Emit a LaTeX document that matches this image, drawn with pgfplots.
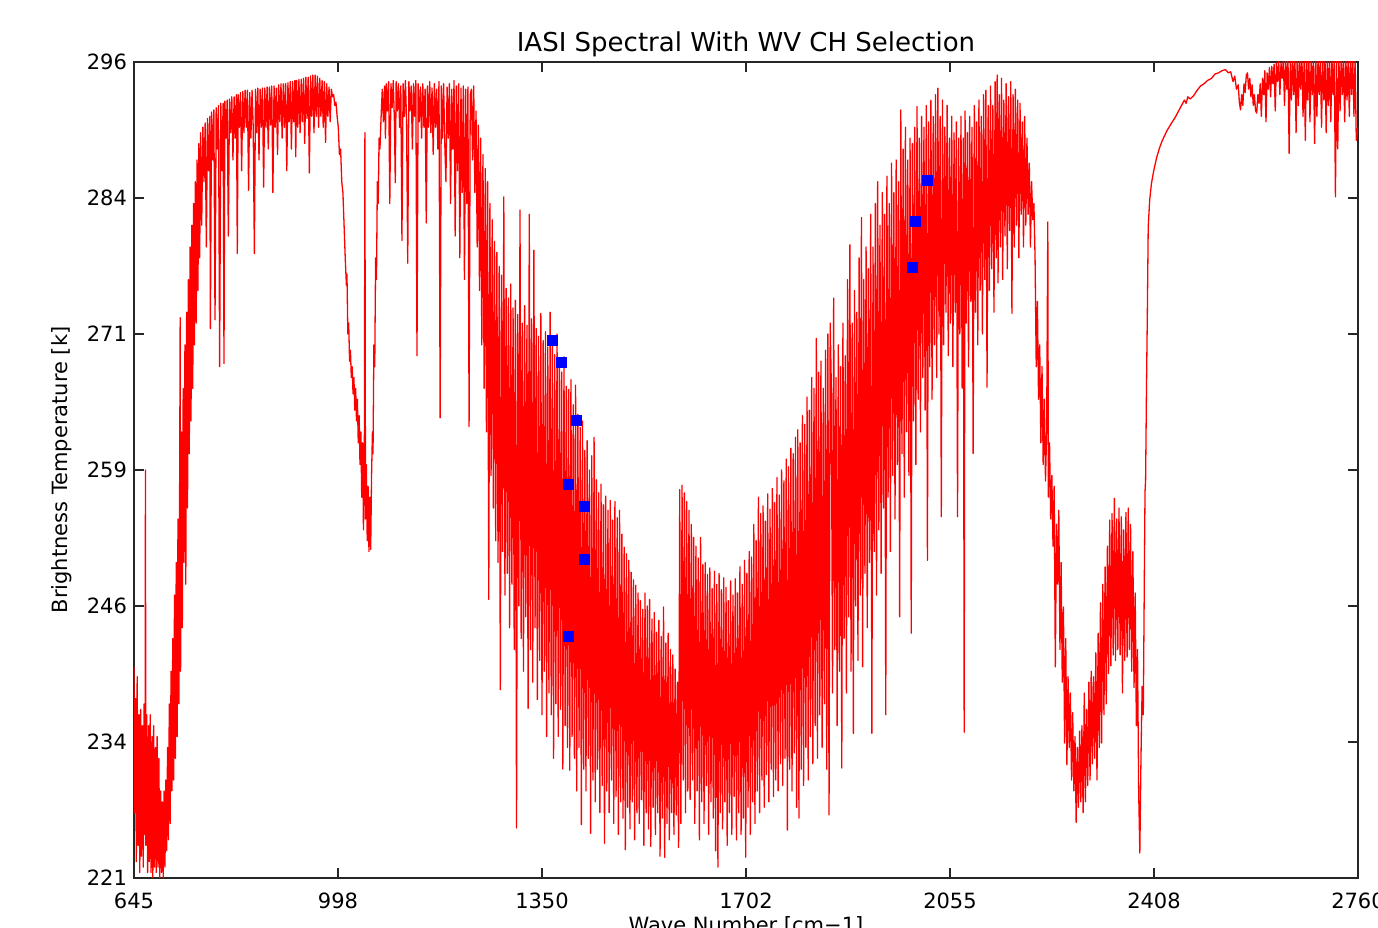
\documentclass[border=0pt]{standalone}
\usepackage{pgfplots}
\pgfplotsset{compat=1.18}
\usepackage{fontspec}
\setmainfont{DejaVu Sans}
\begin{document}
\begin{tikzpicture}
\begin{axis}[
  name=ax,
  scale only axis,
  width=612pt, height=408pt,
  xmin=645, xmax=2760, ymin=221, ymax=296,
  axis line style={black!85, line width=0.6pt},
  xtick={645,997.5,1350,1702.5,2055,2407.5,2760},
  xticklabels={645,998,1350,1702,2055,2408,2760},
  ytick={221,233.5,246,258.5,271,283.5,296},
  yticklabels={221,234,246,259,271,284,296},
  tick align=inside,
  xtick pos=both, ytick pos=both,
  xticklabel pos=lower, yticklabel pos=left,
  major tick length=5pt,
  tick style={black!85, line width=0.6pt},
  ticklabel style={font=\fontsize{10.5}{12}\selectfont},
  xticklabel style={yshift=-4pt},
  title={IASI Spectral With WV CH Selection},
  title style={font=\fontsize{13}{15}\selectfont, at={(axis description cs:0.5,1)}, anchor=center, yshift=3pt},
  xlabel={Wave Number [cm−1]},
  xlabel style={font=\fontsize{10.5}{12}\selectfont, at={(axis description cs:0.5,0)}, anchor=north, yshift=-19pt, inner sep=0pt},
  ylabel={Brightness Temperature [k]},
  ylabel style={font=\fontsize{10.5}{12}\selectfont, at={(axis description cs:-0.0588,0.5)}, anchor=center},
]
\addplot[red, line width=0.65pt, line join=round, no marks] coordinates {
(645,240.4)(646,227)(647.5,237.5)(649,222.5)(650.5,239.5)(652,224)(653.5,236)(655,221.5)(656.5,236.5)(658,223)(659.5,235)(661,222)(662.5,237)(664,225)(664.8,258.5)(665.5,224)(667,236)(668.5,221.5)(670,235)(671.5,222.5)(673,236)(674.5,221.5)(676,234)(677.5,221)(679,235)(680.5,222)(682,233)(683.5,221.5)(685,234)(686.5,222)(688,232)(689.5,221)(691,229)(692.5,221.5)(694,228)(695.5,221)(697,229)(698.5,222)(700,230)(701.5,223.5)(703,233)(704.5,224.5)(706,237)(707.5,226)(709,240)(710.5,229)(712,243)(713.5,230)(715,247)(716.5,232)(718,250)(719.5,234)(721,254)(722.5,237)(724,259)(724.8,272.5)(725.5,240)(727,262)(728.5,244)(730,266)(731.5,250)(733,270)(734.5,248)(736,273)(737.5,255)(739,276)(740.5,260)(742,279)(743.5,263)(745,281)(746.5,266)(748,283)(749.5,270)(751,285)(752.5,272)(754,287)(755.5,275)(757,288.5)(758.5,278)
(760,289.5)(762,281)(764,290)(766,285)(768,290.4)(770,279)(772,290.8)(774,286)(776,291)(777,271.5)(779,291.4)(781,287)(783,291.6)(785,272.3)(787,291.8)(789,288)(791,292)(793,268)(795,292.2)(797,286)(799,292.2)(800.5,268.3)(802,292.4)(804,289)(806,292.5)(808,280)(810,292.6)(812,289.5)(814,292.8)(816,287)(818,292.8)(820,289)(822,293)(823.5,278.4)(825,293)(827,290)(829,293.2)(831,286)(833,293.3)(835,289.5)(837,293.4)(839,290)(841,293.4)(843,284.2)(845,293.2)(847,289)(849,293.4)(851,290)(853,278.4)(855,293.5)(857,289.5)(859,293.6)(861,287)(863,293.5)(865,290)(867,293.6)(869,284.5)(871,293.6)(873,290)(875,293.7)(877,288)(879,293.7)(881,290.2)(883,293.8)(885,284)(887,293.8)(889,290)(891,293.6)(893,287.5)(895,293.9)(897,290.5)(899,294)(901,289)(903,294)(905,290)(907,294)(909,286)(911,294.1)(913,290.5)(915,294.2)(917,288)(919,294.2)(921,290.5)(923,294.3)(924.5,287.3)(926,294.3)(928,290)(930,294.4)(932,289.5)(934,294.4)(936,290.5)(938,294.5)(940,288.5)(942,294.6)(944,290.8)(946,294.6)(948,285.8)(950,294.7)(952,291)(954,294.8)(956,289.5)(958,294.8)(960,291)(962,294.7)(964,290)(966,294.5)(968,291)(970,294.3)(972,290)(974,294.2)(976,288.6)(978,294)(980,291)(982,293.7)(984,290.5)
(986,293.5)(988,292.8)(990,293)(992,292)(994,292.3)(996,291)(998,290)(1000,287.5)(1002,288)(1004,285)(1006,284)(1008,281)(1010,278)(1012,275.5)(1013,276.5)(1014.5,271)(1016,272)(1017.5,268.5)(1019,269.5)(1020.5,267)(1022,268)(1023.5,265.5)(1025,267)(1026.5,264)(1028,266)(1029.5,263)(1031,265)(1032.5,261)(1034,263.5)(1035.5,259)(1037,262)(1038.5,256)(1040,261)(1041.5,253)(1043,258)(1044,289.5)(1045,254)(1046.5,259)(1048,252)(1049.5,257)(1051,251)(1052.5,256)(1054,251.2)(1055.5,258)
(1057,262)(1058,260)(1059.5,270)(1061,268)(1062.5,278)(1064,276)(1065.5,285)(1067,283)(1068.5,289)(1070,288)
(1072,291)(1074,293.5)(1076,290.5)(1078,293.8)(1079.5,289)(1081,294)(1083,291.5)(1085,294.2)(1087,283)(1089,294)(1091,291.8)(1093,294.3)(1095,290.5)(1096.5,284.9)(1098,294.2)(1100,291.5)(1102,294)(1104,290)(1106,293.8)(1108,279.6)(1110,294)(1112,291)(1114,294.3)(1116,290.5)(1118,277.5)(1120,294.2)(1122,291.5)(1124,293.8)(1126,288)(1128,294)(1130,291)(1132,294.3)(1134,269)(1136,294)(1138,290.5)(1140,293.7)(1142,289)(1144,294)(1146,290)(1148,293.5)(1150,281.2)(1152,293.8)(1154,290)(1156,294.2)(1158,289.5)(1160,293.6)(1162,287.5)(1164,294)(1166,290)(1168,293.5)(1170,288)(1172,294.2)(1174,263.3)(1176,293.8)(1178,289)(1180,294)(1182,288.5)(1184,285)(1186,293.7)(1188,289)(1190,294)(1192,283)(1194,293.5)(1196,288)(1198,294.3)(1200,280)(1202,293.8)(1204,286)(1206,294)(1208,278)(1210,293.6)(1212,284)(1214,293.8)(1216,276)(1218,293.5)(1220,283)(1222,293.7)(1224,262.5)(1226,293)
(1228,293.5)(1230,287)(1232,293.8)(1234,284)(1236,291.5)(1238,279)(1240,290.2)(1242,275)(1244,289)(1246,270)(1248,287.5)(1250,266)(1252,286.2)(1254,262)(1256,285)(1258,246.6)(1260,283)(1262,258)(1264,281.5)(1266,255)(1268,279.5)(1270,252)(1272,278.5)(1274,250)(1276,277.2)(1278,238.3)(1280,276.4)(1282,251)(1284,283.6)(1286,247)(1288,275.2)(1290,249)(1292,274.3)(1294,244)(1296,275.6)(1298,248)(1300,273.4)(1302,242)(1304,274.1)(1306,225.6)(1308,272.8)(1310,246)(1312,282.4)(1314,243)(1316,272)(1318,240)(1320,273.6)(1322,245)(1324,271.8)(1326,236.6)(1328,282)(1330,242)(1332,272.4)(1334,239)(1336,278.7)(1338,244)(1340,271.5)(1342,237.4)(1344,270.8)(1346,241)(1348,272.9)(1350,236)(1352,270.4)(1354,240)(1356,271.2)(1358,234)(1360,269.8)(1362,238)(1364,273)(1366,236)(1368,270.2)(1370,232)(1372,269.1)(1374,237)(1376,271)(1378,234)(1380,268.6)(1382,236.5)(1384,267.5)(1386,231)(1388,268.9)(1390,235)(1392,266.2)(1394,233)(1396,265.9)(1398,230.9)(1400,266.8)(1402,234)(1404,264.5)(1406,232)(1408,266.3)(1410,229)(1412,263.6)(1414,233)(1416,262.4)(1418,225.9)(1420,263)(1422,231)(1424,260.3)(1426,229)(1428,261.2)(1430,232)(1432,258.5)(1434,225.1)(1436,259.8)(1438,230)(1440,261.5)(1442,228)(1444,257.6)(1446,231)(1448,256.4)(1450,227)(1452,257.2)(1454,229.5)(1456,255.3)(1458,224.2)(1460,256.1)(1462,229)(1464,254.8)(1466,227)(1468,255.7)(1470,230)(1472,253.9)(1474,226)(1476,255.6)(1478,228.5)(1480,254.1)(1482,225)(1484,254.8)(1486,228)(1488,252.6)(1490,226.5)(1492,251.4)(1494,223.6)(1496,250.8)(1498,227.5)(1500,250.2)(1502,225.5)(1504,249.1)(1506,228)(1508,248.4)(1510,224.5)(1512,247.9)(1514,227)(1516,247.2)(1518,226)(1520,246.5)(1522,228.2)(1524,245.7)(1526,224)(1528,247.2)(1530,227)(1532,246)(1534,225.5)(1536,246.6)(1538,223.9)(1540,244.8)(1542,227.5)(1544,245.4)(1546,225)(1548,243.6)(1550,227)(1552,244.7)(1554,223)(1556,243.2)(1558,226.5)(1560,245.9)(1562,222.9)(1564,242.6)(1566,226)(1568,243.5)(1570,224.5)(1572,242)(1574,227)(1576,241.5)(1578,225)(1580,240.2)(1582,226.8)(1584,239)(1586,223.8)
(1588,256.7)(1590,226)(1592,257.1)(1594,230)(1596,256.4)(1598,227)(1600,255.6)(1602,229)(1604,254.8)(1606,228.2)(1608,253.5)(1610,230)(1612,252.3)(1614,226)(1616,251.5)(1618,229)(1620,250.4)(1622,224.5)(1624,252.3)(1626,228)(1628,249.8)(1630,226)(1632,250)(1634,229.5)(1636,248.9)(1638,225)(1640,249.5)(1642,228)(1644,247.6)(1646,226.5)(1648,249.2)(1650,223.5)(1652,248)(1654,222)(1656,249)(1658,227)(1660,247.5)(1662,225.5)(1664,248.6)(1666,228)(1668,247.7)(1670,224)(1672,246.5)(1674,227)(1676,248.3)(1678,225)(1680,247)(1682,228.5)(1684,248.5)(1686,224.5)(1688,247.2)(1690,227)(1692,249.6)(1694,225)(1696,248)(1698,226.5)(1700,250.2)(1702,222.9)(1704,249)(1706,227.5)(1708,251)(1710,225)(1712,250.5)(1714,228)(1716,253.5)(1718,226)(1720,252)(1722,229)(1724,256)(1726,227)(1728,254.5)(1730,230)(1732,255.2)(1734,227.5)(1736,253.8)(1738,230.5)(1740,256.3)(1742,228)(1744,254.9)(1746,231)(1748,256.8)(1750,228.5)(1752,255.5)(1754,230)(1756,257.8)(1758,229)(1760,256.2)(1762,231.5)(1764,258.5)(1766,229.5)(1768,257.5)(1770,232)(1772,259.5)(1774,225.4)(1776,258.8)(1778,231)(1780,260.5)(1782,229)(1784,260)(1786,232.5)(1788,261.5)(1790,227.5)(1792,262.2)(1794,226.5)(1796,261)(1798,231)(1800,263.5)(1802,229.5)(1804,262.7)(1806,233)(1808,265.2)(1810,230)(1812,264)(1814,234)(1816,267)(1818,231.5)(1820,266)(1822,235)(1824,270.6)(1826,232)(1828,267.5)(1830,236)(1832,268.5)(1834,233)(1836,266)(1838,237)(1840,269.5)(1842,231)(1844,271)(1846,226.8)(1848,272)
(1850,266)(1852,238)(1854,274.3)(1856,242)(1858,267)(1860,235)(1862,270)(1864,240)(1866,268)(1868,231.1)(1870,272)(1872,243)(1874,269)(1876,238)(1878,276)(1880,245)(1882,279.2)(1884,240)(1886,272)(1888,234.3)(1890,275)(1892,246)(1894,273)(1896,241)(1898,278)(1900,247)(1902,281.7)(1904,240.4)(1906,276)(1908,249)(1910,279)(1912,244)(1914,277)(1916,250)(1918,282)(1920,234.3)(1922,279)(1924,251)(1926,283)(1928,247)(1930,285)(1932,253)(1934,281)(1936,249)(1938,284)(1940,255)(1942,282)(1944,236)(1946,285.5)(1948,256)(1950,283)(1952,251)(1954,286.7)(1956,258)(1958,284)(1960,254)(1962,287)(1964,259)(1966,285)(1968,245)(1970,291.6)(1972,260)(1974,288)(1976,256)(1978,290)(1980,262)(1982,287)(1984,258)(1986,289)(1988,243.5)(1990,288.5)(1992,263)(1994,290)(1996,259)(1998,291.9)(2000,265)(2002,289)(2004,262)(2006,291)(2008,267)(2010,290)(2012,264)(2014,292)(2016,250.2)(2018,290.5)(2020,268)(2022,292.5)(2024,265)(2026,291)(2028,270)(2030,293)(2032,267)(2034,293.6)(2036,271)(2038,291)(2040,254.2)(2042,292.5)(2044,270)(2046,290)(2048,273)(2050,292)(2052,269)(2054,289)(2056,272)(2058,291)(2060,268)(2062,289.5)(2064,273)(2066,290.5)(2068,254.2)(2070,289)(2072,271)(2074,291)(2076,266)(2078,289)(2079.5,234.4)(2081,291.5)(2083,272)(2085,289.5)(2087,268)(2089,291)(2091,274)(2093,290)(2095,260)(2097,292)(2099,273)(2101,290.5)(2103,270)(2105,292.5)(2107,275)(2109,291)(2111,271)(2113,293)(2115,276)(2117,293.4)(2119,266.1)(2121,292)(2123,275)(2125,293.8)(2127,277)(2129,292)(2131,273)(2133,294.2)(2135,278)(2136.5,294.8)(2138,275.7)(2140,293)(2142,279)(2144,294.5)(2146,276)(2148,292.5)(2150,280)(2152,294)(2154,277)(2156,292.8)(2158,280.5)(2160,294.2)(2162,272.9)(2164,293)(2166,279)(2168,293.5)(2170,281)(2172,292.5)(2174,278)(2176,292.2)(2178,282)(2180,290.5)(2182,279)(2184,291)(2186,281)(2188,289)(2190,282)(2192,286.7)(2194,279)(2196,285)(2198,281.5)(2200,283)
(2202,278)(2204,268)(2206,274)(2208,265)(2210,270)(2212,261)(2214,268)(2216,259)(2218,265)(2220,257.5)(2222,262)(2224,281.3)(2225,256)(2227,261)(2229,254)(2231,258)(2233,251.5)(2235,257)(2237,240.4)(2239,253.5)(2241,248)(2243,254.8)(2245,242)(2247,250)(2249,239)(2251,245.9)(2253,233.4)(2255,243)(2257,231.4)(2259,239.5)(2261,233)(2263,238)(2265,230)(2267,236.2)(2269,229)(2271,234)(2273,226.1)(2275,233)(2277,227.5)(2279,234.5)(2281,228)(2283,235)(2285,227)(2287,238)(2289,228)(2291,236.5)(2293,229.5)(2295,239)(2297,230)(2299,240)(2301,231.5)(2303,239.5)(2305,232)(2307,241.7)(2309,230)(2311,243.5)(2313,233)(2315,246.3)(2317,233.4)(2319,248)(2321,236)(2323,249.6)(2325,237)(2327,251.5)(2329,239.8)(2331,253.9)(2333,240.5)(2335,254.5)(2337,241.5)(2339,255.9)(2341,241)(2343,254)(2345,242)(2347,255)(2349,241.5)(2351,254.2)(2353,238)(2355,253)(2357,241)(2359,254.6)(2361,241.3)(2363,255)(2365,242)(2367,253.5)(2369,240)(2371,251)(2373,238.5)(2375,247.2)(2377,235)(2379,242)(2381,229)(2383,223.3)(2385,232)(2387,238.6)(2389,236)(2391,250)(2392,256.5)
(2393,257.6)(2394.5,266)(2396,272.9)(2397.5,280.8)(2400,283.3)(2403,284.8)(2407,286)(2412,287.2)(2417,288.1)(2422,288.8)(2430,289.7)(2438,290.4)(2444,290.9)(2450,291.5)(2455,292)(2460,292.5)(2463,292.2)(2466,292.8)(2470,292.6)(2476,292.9)(2482,293.4)(2488,293.8)(2494,294)(2500,294.3)(2507,294.5)(2513,294.9)(2519,295)(2525,295.2)(2531,295.3)(2536,295)(2540,295.1)(2544,294.2)(2547,294.7)(2550,293.5)(2553,293.9)(2555,292.3)(2557,291.6)(2559,293)(2561,292)(2563,294)(2565,293.2)(2567,294.8)(2569,295)(2571,293.5)(2573,294.5)(2575,292.8)(2577,293.9)(2579,292)(2581,293)(2583,291.5)(2585,291.3)(2587,293)(2589,292.2)(2591,294)(2593,291)(2595,294.5)(2597,293)(2599,295.2)(2601,290.5)(2603,295)(2605,293.5)(2607,295.5)(2609,292.8)(2611,295.6)(2613,294)(2615,295.8)(2617,291.5)(2619,295.9)(2621,294.2)(2623,296.1)(2625,293)(2627,295.9)(2629,294.5)(2631,296.3)(2633,292)(2635,296.2)(2637,293.5)(2639,296.4)(2641,287.6)(2643,296.2)(2645,292.5)(2647,296.5)(2649,293)(2651,296.4)(2653,289.5)(2655,296.6)(2657,292)(2659,296.3)(2661,293.5)(2663,296.7)(2665,291)(2667,296.4)(2669,288.8)(2671,296.5)(2673,292.5)(2675,296.6)(2677,290.5)(2679,296.3)(2681,293)(2683,296.5)(2685,288.5)(2687,296.4)(2689,291)(2691,296.6)(2693,293)(2695,296.2)(2697,290)(2699,296.5)(2701,292.5)(2703,296.3)(2705,289.5)(2707,296.5)(2709,292)(2711,296.4)(2713,290.5)(2715,296.2)(2717,293)(2719,296.5)(2721,283.6)(2723,296.3)(2725,288)(2727,296.4)(2729,291.5)(2731,296.6)(2733,293)(2735,296.2)(2737,290.5)(2739,296.5)(2741,292.5)(2743,296.4)(2745,291)(2747,296.6)(2749,293)(2751,296.3)(2753,291)(2755,296.5)(2757,288.8)(2759,289.5)(2760,290)
};
\addplot[only marks, mark=square*, mark size=2.5pt, mark options={draw=blue, fill=blue, line width=0.2pt}] coordinates {
(1367.3,270.45)(1382.9,268.4)(1408.8,263.1)(1395,257.2)(1422.6,255.2)(1422.6,250.3)(1395,243.2)(1989.4,277.1)(1994.6,281.4)(2015.3,285.1)
};
\end{axis}
\pgfresetboundingbox
\path[use as bounding box] ([xshift=-67pt,yshift=-25pt]ax.south west) rectangle ([xshift=10pt,yshift=31pt]ax.north east);
\end{tikzpicture}
\end{document}
